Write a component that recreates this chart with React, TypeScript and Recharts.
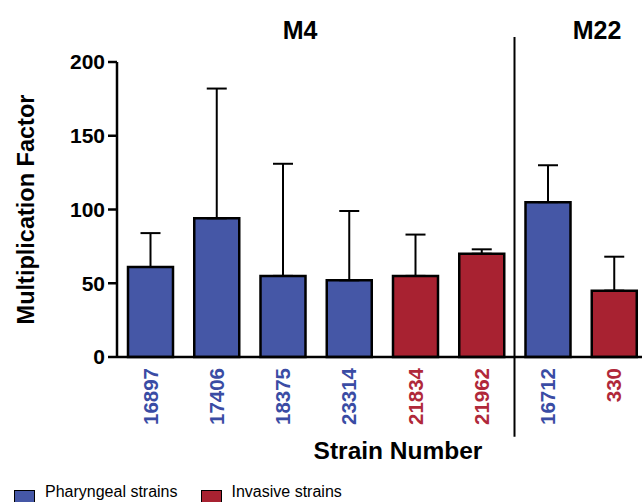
import React from 'react';
import { BarChart, Bar, XAxis, YAxis, Cell, ErrorBar, ReferenceLine } from 'recharts';

// values
const strains = ['16897', '17406', '18375', '23314', '21834', '21962', '16712', '330'];
const means = [61, 94, 55, 52, 55, 70, 105, 45];
const upperErr = [23, 88, 76, 47, 28, 3, 25, 23];
const strainType = ['P', 'P', 'P', 'P', 'I', 'I', 'P', 'I'];
const yTicks = [0, 50, 100, 150, 200];

const BLUE = '#4557a6';
const RED = '#a82231';
const BLUE_TXT = '#3a4ca4';
const RED_TXT = '#b0283a';

const data = strains.map((s, i) => ({
  strain: s,
  value: means[i],
  err: [0, upperErr[i]],
  type: strainType[i],
}));

const StrainTick = (props: any) => {
  const { x, y, payload, index } = props;
  const color = strainType[index] === 'P' ? BLUE_TXT : RED_TXT;
  const ty = y + 11;
  return (
    <text
      x={x}
      y={ty}
      transform={`rotate(-90, ${x}, ${ty})`}
      textAnchor="end"
      dominantBaseline="central"
      fill={color}
      fontSize={20.5}
      fontWeight="bold"
    >
      {payload.value}
    </text>
  );
};

const legendBox = (color: string) => ({
  width: 21,
  height: 20,
  marginTop: 6,
  background: color,
  border: '1.5px solid #000',
  boxSizing: 'border-box' as const,
  display: 'inline-block',
  marginRight: 10,
});

const App = () => {
  return (
    <div
      style={{
        position: 'absolute',
        left: 0,
        top: 0,
        width: 642,
        height: 502,
        overflow: 'hidden',
        background: '#fff',
        fontFamily: '"Liberation Sans", Arial, sans-serif',
      }}
    >
      <BarChart
        width={660}
        height={502}
        data={data}
        margin={{ top: 62, right: 13, bottom: 0, left: 0 }}
        barSize={45}
      >
        <YAxis
          width={117}
          domain={[0, 200]}
          ticks={yTicks}
          tickSize={9}
          tickMargin={3}
          stroke="#000"
          strokeWidth={2.5}
          tick={{ fill: '#000', fontSize: 21, fontWeight: 'bold' }}
          label={{
            value: 'Multiplication Factor',
            angle: -90,
            position: 'insideLeft',
            offset: 26,
            style: { textAnchor: 'middle', fontSize: 23.5, fontWeight: 'bold', fill: '#000' },
          }}
        />
        <XAxis
          dataKey="strain"
          height={145}
          interval={0}
          tickLine={false}
          tickSize={0}
          tickMargin={0}
          axisLine={{ stroke: '#000', strokeWidth: 2.5 }}
          tick={<StrainTick />}
        />
        <ReferenceLine
          segment={[
            { x: '16712', y: -54 },
            { x: '16712', y: 217 },
          ]}
          position="start"
          ifOverflow="visible"
          stroke="#000"
          strokeWidth={2}
        />
        <Bar dataKey="value" stroke="#000" strokeWidth={2.5} isAnimationActive={false}>
          {data.map((d, i) => (
            <Cell key={i} fill={d.type === 'P' ? BLUE : RED} />
          ))}
          <ErrorBar dataKey="err" width={10} stroke="#000" strokeWidth={2} />
        </Bar>
      </BarChart>

      <div style={{ position: 'absolute', left: 300, top: 16, transform: 'translateX(-50%)', fontSize: 25, fontWeight: 'bold' }}>M4</div>
      <div style={{ position: 'absolute', left: 597, top: 16, transform: 'translateX(-50%)', fontSize: 25, fontWeight: 'bold' }}>M22</div>
      <div style={{ position: 'absolute', left: 398, top: 437, transform: 'translateX(-50%)', fontSize: 24.5, fontWeight: 'bold', whiteSpace: 'nowrap' }}>
        Strain Number
      </div>

      <div style={{ position: 'absolute', left: 14, top: 484, display: 'flex', alignItems: 'flex-start', fontSize: 16, lineHeight: 1 }}>
        <span style={legendBox(BLUE)} />
        <span style={{ marginRight: 23, whiteSpace: 'nowrap' }}>Pharyngeal strains</span>
        <span style={legendBox(RED)} />
        <span style={{ whiteSpace: 'nowrap' }}>Invasive strains</span>
      </div>
    </div>
  );
};

export default App;
